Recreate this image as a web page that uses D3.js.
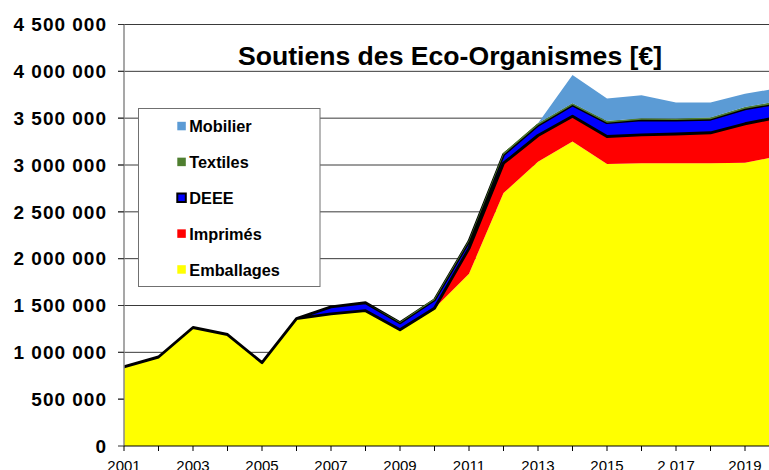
<!DOCTYPE html>
<html><head><meta charset="utf-8">
<script src="https://cdn.jsdelivr.net/npm/d3@7"></script>
<style>
body{margin:0;background:#fff}
svg{display:block}
text{font-family:"Liberation Sans",Arial,Helvetica,sans-serif}
</style>
</head><body>
<svg id="chart" width="769" height="470"></svg>
<script>
// ---- data ----
const years = [2001,2002,2003,2004,2005,2006,2007,2008,2009,2010,2011,2012,2013,2014,2015,2016,2017,2018,2019,2020];
const emballages = [845000,950000,1265000,1190000,890000,1360000,1410000,1445000,1240000,1470000,1840000,2700000,3035000,3250000,3010000,3020000,3020000,3020000,3025000,3095000];
const imprimes   = [0,0,0,0,0,0,0,0,0,0,270000,320000,280000,270000,295000,302000,311000,324000,415000,418000];
const deee       = [0,0,0,0,0,0,75000,85000,75000,90000,75000,90000,110000,120000,147000,160000,150000,145000,160000,150000];
const textiles   = [0,0,0,0,0,0,0,0,10000,15000,15000,20000,20000,20000,18000,16000,16000,18000,20000,20000];
const mobilier   = [0,0,0,0,0,0,0,0,0,0,0,0,0,300000,240000,247000,170000,160000,140000,140000];

const seriesKeys   = ["Emballages","Imprimés","DEEE","Textiles","Mobilier"];
const seriesColors = ["#FFFF00","#FF0000","#0000FF","#4F7F30","#5B9BD5"];
const legendOrder  = ["Mobilier","Textiles","DEEE","Imprimés","Emballages"];

const xTickYears  = [2001,2003,2005,2007,2009,2011,2013,2015,2017,2019];
const xTickLabels = ["2001","2003","2005","2007","2009","2011","2013","2015","2 017","2019"];
const yTicks      = [0,500000,1000000,1500000,2000000,2500000,3000000,3500000,4000000,4500000];
const yTickLabels = ["0","500 000","1 000 000","1 500 000","2 000 000","2 500 000","3 000 000","3 500 000","4 000 000","4 500 000"];
const chartTitle = "Soutiens des Eco-Organismes [€]";

// ---- layout ----
const svg = d3.select("#chart");
const plotLeft = 124, plotBottom = 446, plotTop = 24.5, yearStep = 34.5;
const x = d3.scaleLinear().domain([years[0], years[years.length-1]])
  .range([plotLeft, plotLeft + yearStep*(years.length-1)]);
const y = d3.scaleLinear().domain([0, 4500000]).range([plotBottom, plotTop]);

const table = years.map((yr,i)=>({year:yr, "Emballages":emballages[i], "Imprimés":imprimes[i], "DEEE":deee[i], "Textiles":textiles[i], "Mobilier":mobilier[i]}));
const stacked = d3.stack().keys(seriesKeys)(table);

svg.append("defs").append("clipPath").attr("id","plotclip")
  .append("rect").attr("x",plotLeft).attr("y",0).attr("width",769-plotLeft).attr("height",plotBottom);

// gridlines
svg.append("g").selectAll("line").data(yTicks.filter(d=>d>0)).join("line")
  .attr("x1",plotLeft-6).attr("x2",769)
  .attr("y1",d=>y(d)).attr("y2",d=>y(d))
  .attr("stroke","#3a3a3a").attr("stroke-width",1);

// areas
const area = d3.area().x(d=>x(d.data.year)).y0(d=>y(d[0])).y1(d=>y(d[1]));
const g = svg.append("g").attr("clip-path","url(#plotclip)");
stacked.forEach((s,i)=>{
  const p = g.append("path").datum(s).attr("d",area).attr("fill",seriesColors[i]);
  if (s.key==="DEEE") p.attr("stroke","#000").attr("stroke-width",2.9).attr("stroke-linejoin","round");
});

// y axis line
svg.append("line").attr("x1",plotLeft).attr("x2",plotLeft).attr("y1",plotTop).attr("y2",plotBottom)
  .attr("stroke","#8a8a8a").attr("stroke-width",1.5);
// y ticks
svg.append("g").selectAll("line").data(yTicks).join("line")
  .attr("x1",plotLeft-6).attr("x2",plotLeft).attr("y1",d=>y(d)).attr("y2",d=>y(d))
  .attr("stroke","#333").attr("stroke-width",1);
svg.append("g").selectAll("text").data(yTicks).join("text")
  .attr("x",107).attr("y",d=>y(d)+6.8)
  .attr("text-anchor","end").attr("font-size",19).attr("font-weight","bold")
  .attr("letter-spacing","1px").attr("fill","#000")
  .text((d,i)=>yTickLabels[i]);

// x axis
svg.append("line").attr("x1",plotLeft).attr("x2",769).attr("y1",plotBottom).attr("y2",plotBottom)
  .attr("stroke","#000").attr("stroke-width",1.2);
svg.append("g").selectAll("line").data(years).join("line")
  .attr("x1",d=>x(d)).attr("x2",d=>x(d)).attr("y1",plotBottom).attr("y2",plotBottom+5)
  .attr("stroke","#000").attr("stroke-width",1);
svg.append("g").selectAll("text").data(xTickYears).join("text")
  .attr("x",d=>x(d)).attr("y",470.5).attr("text-anchor","middle")
  .attr("font-size",15).attr("fill","#000")
  .text((d,i)=>xTickLabels[i]);

// title
svg.append("text").attr("x",450).attr("y",65).attr("text-anchor","middle")
  .attr("font-size",26.6).attr("font-weight","bold").attr("fill","#000").text(chartTitle);

// legend
const lg = svg.append("g");
lg.append("rect").attr("x",138.5).attr("y",108.5).attr("width",181.5).attr("height",178)
  .attr("fill","#fff").attr("stroke","#707070").attr("stroke-width",1);
legendOrder.forEach((k,i)=>{
  const base = 132.3 + i*35.85;
  const ci = seriesKeys.indexOf(k);
  const r = lg.append("rect").attr("x",177.3).attr("y",base-10.5).attr("width",8.5).attr("height",8.5)
    .attr("fill",seriesColors[ci]);
  if (k==="DEEE") r.attr("stroke","#000").attr("stroke-width",2);
  lg.append("text").attr("x",189.3).attr("y",base).attr("font-size",16.3).attr("font-weight","bold")
    .attr("fill","#000").text(k);
});
</script>
</body></html>
